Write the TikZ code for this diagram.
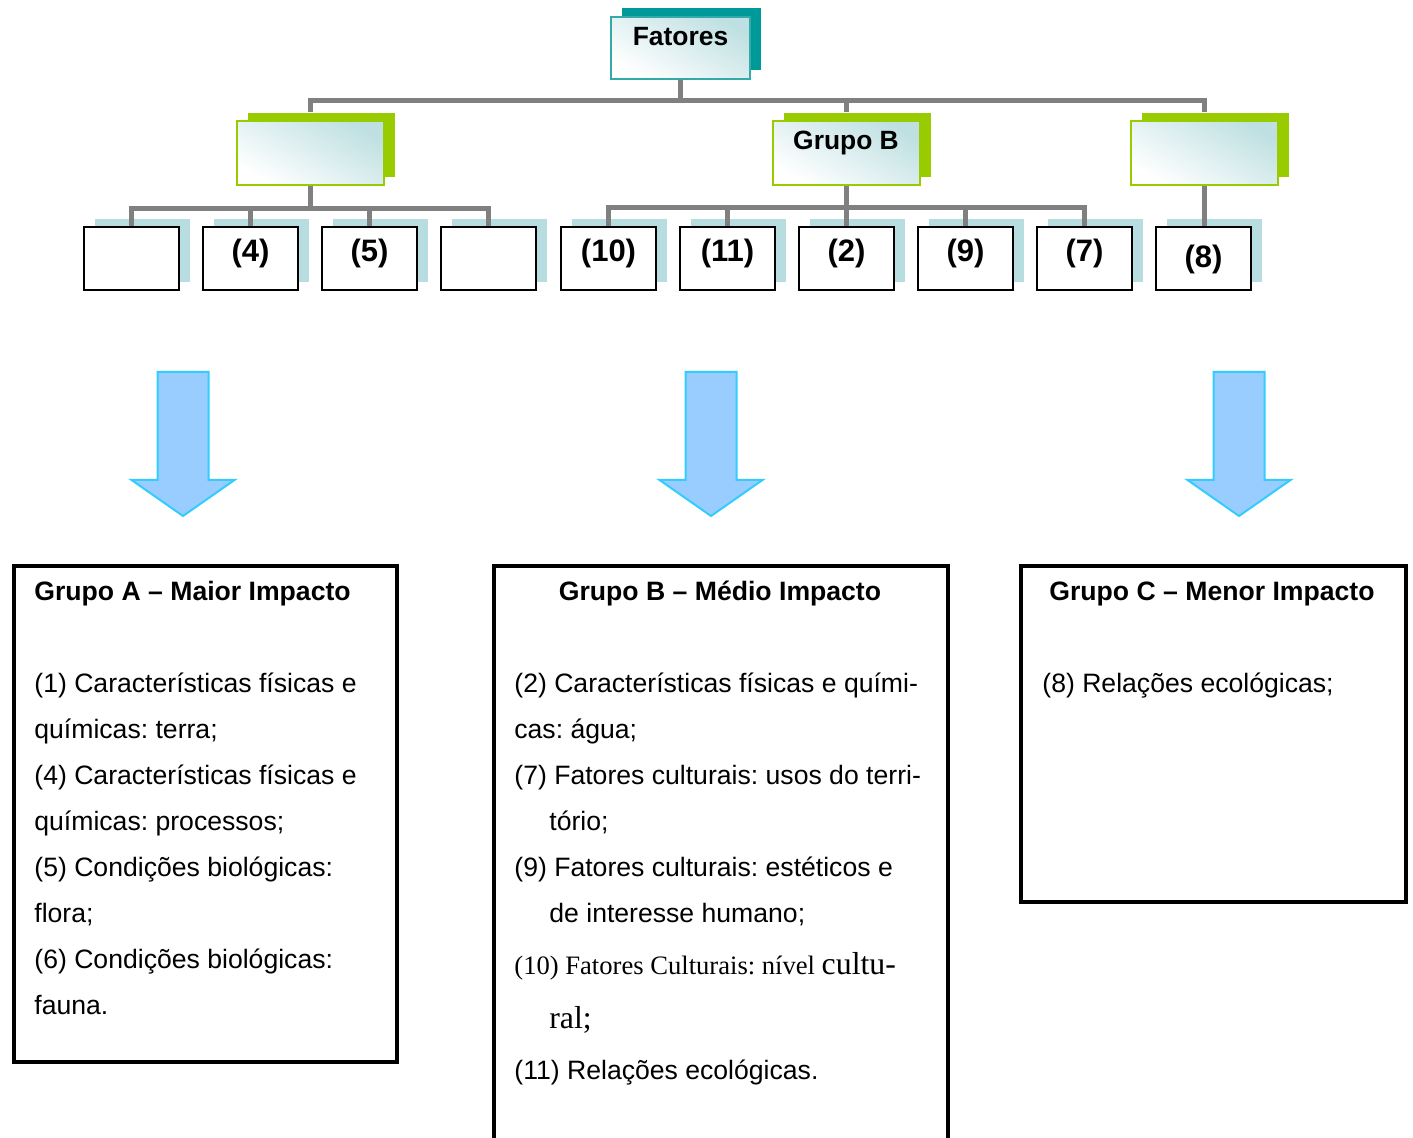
\documentclass[tikz,border=0pt]{standalone}
\usepackage{fontspec}
\setmainfont{Liberation Sans}
\newfontfamily\timesfont{Liberation Serif}
\frenchspacing
\definecolor{tealback}{HTML}{009999}
\definecolor{tealedge}{HTML}{33AAAA}
\definecolor{limeback}{HTML}{99CC00}
\definecolor{gradc}{HTML}{BFE0E2}
\definecolor{paleblue}{HTML}{B7DDE0}
\definecolor{conngray}{HTML}{808080}
\definecolor{arrowfill}{HTML}{99CCFF}
\definecolor{arrowedge}{HTML}{33CCFF}
\begin{document}
\begin{tikzpicture}[
    x=0.5pt, y=-0.5pt,
    root/.style={rectangle, draw=tealedge, line width=1pt, top color=gradc, bottom color=white, shading angle=-30,
        minimum width=69.5pt, inner sep=0pt, text height=14.5pt, text depth=16.5pt,
        font=\bfseries\fontsize{13.2}{16}\selectfont,
        preaction={fill=tealback, transform canvas={xshift=5.5pt, yshift=4.5pt}}},
    group/.style={rectangle, draw=limeback, line width=1pt, top color=gradc, bottom color=white, shading angle=-30,
        minimum width=73.5pt, inner sep=0pt, text height=14.5pt, text depth=17.5pt,
        font=\bfseries\fontsize{13.2}{16}\selectfont,
        preaction={fill=limeback, transform canvas={xshift=5.5pt, yshift=4pt}}},
    factor/.style={rectangle, draw=black, line width=1pt, fill=white,
        minimum width=47.5pt, inner sep=0pt, text height=17.5pt, text depth=14pt,
        font=\bfseries\fontsize{15.5}{18}\selectfont,
        preaction={fill=paleblue, transform canvas={xshift=5.5pt, yshift=4pt}}},
    conn/.style={draw=conngray, line width=2.5pt},
    bigarrow/.style={fill=arrowfill, draw=arrowedge, line width=1pt, line join=miter},
    bigbox/.style={rectangle, draw=black, line width=2pt, inner sep=0pt, anchor=north west},
    title/.style={anchor=base west, inner sep=0pt, font=\bfseries\fontsize{13.3}{16}\selectfont},
    body/.style={anchor=north west, inner sep=0pt, align=left, font=\fontsize{13.3}{23}\selectfont}
]
\useasboundingbox (0,0) rectangle (1413,1138);

% top of the chart
\node[root] (fat) at (680.5,48) {Fatores};
\node[group] (ga) at (310.5,153) {};
\node[group] (gb) at (846,153) {Grupo B};
\node[group] (gc) at (1204,153) {};

% factors
\node[factor] (a1) at (131.5,258.5) {};
\node[factor] (a4) at (250.5,258.5) {(4)};
\node[factor] (a5) at (369.5,258.5) {(5)};
\node[factor] (a6) at (488.5,258.5) {};
\node[factor] (b10) at (608.5,258.5) {(10)};
\node[factor] (b11) at (727.5,258.5) {(11)};
\node[factor] (b2) at (846.5,258.5) {(2)};
\node[factor] (b9) at (965.5,258.5) {(9)};
\node[factor] (b7) at (1084.5,258.5) {(7)};
\node[factor, text height=20.5pt, text depth=11pt] (c8) at (1203.5,258.5) {(8)};

% connectors
\draw[conn] (fat.south) -- ++(0,21) -| ([yshift=4pt]ga.north);
\draw[conn] (fat.south) -- ++(0,21) -| ([yshift=4pt]gb.north);
\draw[conn] (fat.south) -- ++(0,21) -| ([yshift=4pt]gc.north);
\draw[conn] (ga.south) -- ++(0,23) -| (a1.north);
\draw[conn] (ga.south) -- ++(0,23) -| (a4.north);
\draw[conn] (ga.south) -- ++(0,23) -| (a5.north);
\draw[conn] (ga.south) -- ++(0,23) -| (a6.north);
\draw[conn] (gb.south) -- ++(0,22) -| (b10.north);
\draw[conn] (gb.south) -- ++(0,22) -| (b11.north);
\draw[conn] (gb.south) -- ++(0,22) -| (b2.north);
\draw[conn] (gb.south) -- ++(0,22) -| (b9.north);
\draw[conn] (gb.south) -- ++(0,22) -| (b7.north);
\draw[conn] (gc.south) -- (gc.south |- c8.north);

% block arrows
\draw[bigarrow, shift={(183,0)}] (-25.5,372) -- (25.5,372) -- (25.5,480) -- (51.5,480) -- (0,516) -- (-51.5,480) -- (-25.5,480) -- cycle;
\draw[bigarrow, shift={(711,0)}] (-25.5,372) -- (25.5,372) -- (25.5,480) -- (51.5,480) -- (0,516) -- (-51.5,480) -- (-25.5,480) -- cycle;
\draw[bigarrow, shift={(1239,0)}] (-25.5,372) -- (25.5,372) -- (25.5,480) -- (51.5,480) -- (0,516) -- (-51.5,480) -- (-25.5,480) -- cycle;

% groups
\node[bigbox, minimum width=191.5pt, minimum height=248pt] (boxa) at (12,564) {};
\node[bigbox, minimum width=227pt, minimum height=300pt] (boxb) at (492,564) {};
\node[bigbox, minimum width=192.5pt, minimum height=168pt] (boxc) at (1019,564) {};

\node[title] (tita) at (34,601) {Grupo A – Maior Impacto};
\node[title, anchor=base] (titb) at (720,601) {Grupo B – Médio Impacto};
\node[title, anchor=base] (titc) at (1212,601) {Grupo C – Menor Impacto};

\node[body] (texta) at (34,673) {(1) Características físicas e\\
químicas: terra;\\
(4) Características físicas e\\
químicas: processos;\\
(5) Condições biológicas:\\
flora;\\
(6) Condições biológicas:\\
fauna.};
\node[body] (textb) at (514,673) {(2) Características físicas e quími-\\
cas: água;\\
(7) Fatores culturais: usos do terri-\\
\hspace*{17.5pt}tório;\\
(9) Fatores culturais: estéticos e\\
\hspace*{17.5pt}de interesse humano;\\[3pt]
{\timesfont (10) Fatores Culturais: nível {\fontsize{15.9}{23}\selectfont cultu-}}\\[4pt]
\hspace*{17.5pt}{\timesfont\fontsize{15.9}{23}\selectfont ral;}\\[2.5pt]
(11) Relações ecológicas.};
\node[body] (textc) at (1042,673) {(8) Relações ecológicas;};
\end{tikzpicture}
\end{document}
